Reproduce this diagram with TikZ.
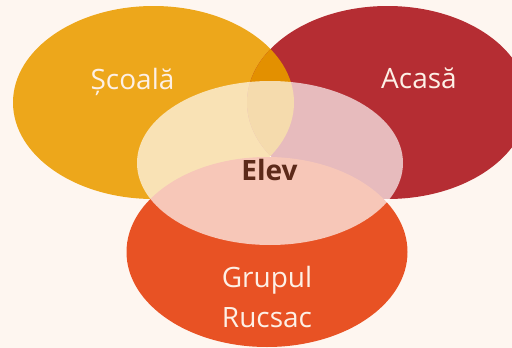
\documentclass[tikz,border=0pt]{standalone}
\usepackage{fontspec}
\setmainfont{Open Sans}
\definecolor{bgc}{HTML}{FEF6F0}
\definecolor{yel}{HTML}{EDA71B}
\definecolor{redc}{HTML}{B52D33}
\definecolor{orc}{HTML}{E85224}
\definecolor{lensc}{HTML}{E39000}
\definecolor{lbl}{HTML}{FDF0E6}
\definecolor{elevc}{HTML}{5C2A1A}
\tikzset{
  lab/.style={anchor=base, text=lbl, font=\fontsize{28}{40}\selectfont, inner sep=0pt, align=center},
  midlab/.style={anchor=base, text=elevc, font=\fontsize{28}{32}\selectfont\bfseries, inner sep=0pt}
}
\begin{document}
\begin{tikzpicture}[x=1pt,y=-1pt]
\fill[bgc] (0,0) rectangle (512,348);
\useasboundingbox (0,0) rectangle (512,348);
\fill[yel] (153.5,102.5) ellipse [x radius=140.5pt, y radius=96.5pt];
\fill[redc] (387.5,102.5) ellipse [x radius=140.5pt, y radius=96.5pt];
\begin{scope}
\clip (153.5,102.5) ellipse [x radius=140.5pt, y radius=96.5pt];
\fill[lensc] (387.5,102.5) ellipse [x radius=140.5pt, y radius=96.5pt];
\end{scope}
\fill[orc] (267,252) ellipse [x radius=140.5pt, y radius=95pt];
\fill[white, opacity=0.68] (270,163) ellipse [x radius=133pt, y radius=82pt];
\node[lab] (scoala) at (132.5,89) {Școală};
\node[lab] (acasa) at (419,88) {Acasă};
\node[midlab] (elev) at (269.5,180) {Elev};
\node[lab] (grupul) at (267,287) {Grupul};
\node[lab] (rucsac) at (267,327) {Rucsac};
\end{tikzpicture}
\end{document}
